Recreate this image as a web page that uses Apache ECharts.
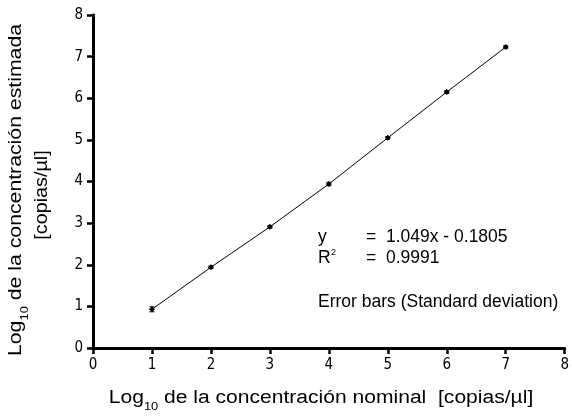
<!DOCTYPE html>
<html><head><meta charset="utf-8">
<script src="https://cdn.jsdelivr.net/npm/echarts@6/dist/echarts.min.js"></script>
<style>html,body{margin:0;padding:0;background:#fff}#c{width:572px;height:417px}</style>
</head><body><div id="c"></div>
<script>
const xNominal = [1, 2, 3, 4, 5, 6, 7];
const yEstimated = [0.93, 1.94, 2.91, 3.94, 5.05, 6.15, 7.23];
const yStd = [0.06, 0.03, 0.03, 0.04, 0.03, 0.03, 0.03];
const xTicks = [0, 1, 2, 3, 4, 5, 6, 7, 8];
const yTicks = [0, 1, 2, 3, 4, 5, 6, 7, 8];
const xTitleMain = ' de la concentración nominal  [copias/µl]';
const yTitleMain = ' de la concentración estimada';
const yTitleUnit = '[copias/µl]';
const fitLines = [['y', '=  1.049x - 0.1805'], ['R', '=  0.9991']];
const noteText = 'Error bars (Standard deviation)';

const pts = xNominal.map((x, i) => [x, yEstimated[i]]);
const errs = xNominal.map((x, i) => [x, yEstimated[i] - yStd[i], yEstimated[i] + yStd[i]]);

const chart = echarts.init(document.getElementById('c'));
const tickFont = {fontFamily: '"Liberation Sans Narrow", "DejaVu Sans Condensed"', fontSize: 15, color: '#000'};
const titleRich = {
  a: {fontFamily: 'Liberation Sans', fontSize: 18, color: '#000', lineHeight: 24},
  s: {fontFamily: 'Liberation Sans', fontSize: 11, color: '#000', verticalAlign: 'bottom', lineHeight: 24, padding: [0, 0, -2, 0]}
};
const annFont = '17.5px "Liberation Sans"';
chart.setOption({
  animation: false,
  grid: {left: 93, right: 5, top: 15, bottom: 69, containLabel: false},
  xAxis: {
    type: 'value', min: 0, max: 8, interval: 1,
    axisLine: {show: true, lineStyle: {color: '#000', width: 3}},
    axisTick: {show: true, length: 6, lineStyle: {color: '#000', width: 2.5}},
    axisLabel: Object.assign({margin: 10, formatter: v => xTicks.includes(v) ? String(v) : ''}, tickFont),
    splitLine: {show: false}
  },
  yAxis: {
    type: 'value', min: 0, max: 8, interval: 1,
    axisLine: {show: true, lineStyle: {color: '#000', width: 3}},
    axisTick: {show: true, length: 6, lineStyle: {color: '#000', width: 2.5}},
    axisLabel: Object.assign({margin: 10, formatter: v => yTicks.includes(v) ? String(v) : ''}, tickFont),
    splitLine: {show: false}
  },
  series: [
    {
      type: 'line', data: pts, symbol: 'diamond', symbolSize: 6,
      lineStyle: {color: '#000', width: 1},
      itemStyle: {color: '#000'}
    },
    {
      type: 'custom', data: errs,
      renderItem: (params, api) => {
        const x = api.value(0);
        const lo = api.coord([x, api.value(1)]);
        const hi = api.coord([x, api.value(2)]);
        return {type: 'group', children: [
          {type: 'line', shape: {x1: lo[0], y1: lo[1], x2: hi[0], y2: hi[1]}, style: {stroke: '#000', lineWidth: 1}},
          {type: 'line', shape: {x1: lo[0]-2.5, y1: lo[1], x2: lo[0]+2.5, y2: lo[1]}, style: {stroke: '#000', lineWidth: 1}},
          {type: 'line', shape: {x1: hi[0]-2.5, y1: hi[1], x2: hi[0]+2.5, y2: hi[1]}, style: {stroke: '#000', lineWidth: 1}}
        ]};
      }
    }
  ],
  graphic: [
    {type: 'text', x: 321, y: 398, scaleX: 1.17,
     style: {text: '{a|Log}{s|10}{a|' + xTitleMain + '}', rich: titleRich, align: 'center', verticalAlign: 'middle'}},
    {type: 'text', x: 16, y: 190, rotation: Math.PI / 2, scaleX: 1.18,
     style: {text: '{a|Log}{s|10}{a|' + yTitleMain + '}', rich: titleRich, align: 'center', verticalAlign: 'middle'}},
    {type: 'text', x: 42, y: 195, rotation: Math.PI / 2, scaleX: 1.1,
     style: {text: '{a|' + yTitleUnit + '}', rich: titleRich, align: 'center', verticalAlign: 'middle'}},
    {type: 'text', x: 318, y: 237, style: {text: fitLines[0][0], font: annFont, fill: '#000', verticalAlign: 'middle'}},
    {type: 'text', x: 366, y: 237, style: {text: fitLines[0][1], font: annFont, fill: '#000', verticalAlign: 'middle'}},
    {type: 'text', x: 318, y: 258, style: {text: fitLines[1][0], font: annFont, fill: '#000', verticalAlign: 'middle'}},
    {type: 'text', x: 331, y: 253, style: {text: '2', font: '9px "Liberation Sans"', fill: '#000', verticalAlign: 'middle'}},
    {type: 'text', x: 366, y: 258, style: {text: fitLines[1][1], font: annFont, fill: '#000', verticalAlign: 'middle'}},
    {type: 'text', x: 318, y: 302, style: {text: noteText, font: annFont, fill: '#000', verticalAlign: 'middle'}}
  ]
});
</script></body></html>
